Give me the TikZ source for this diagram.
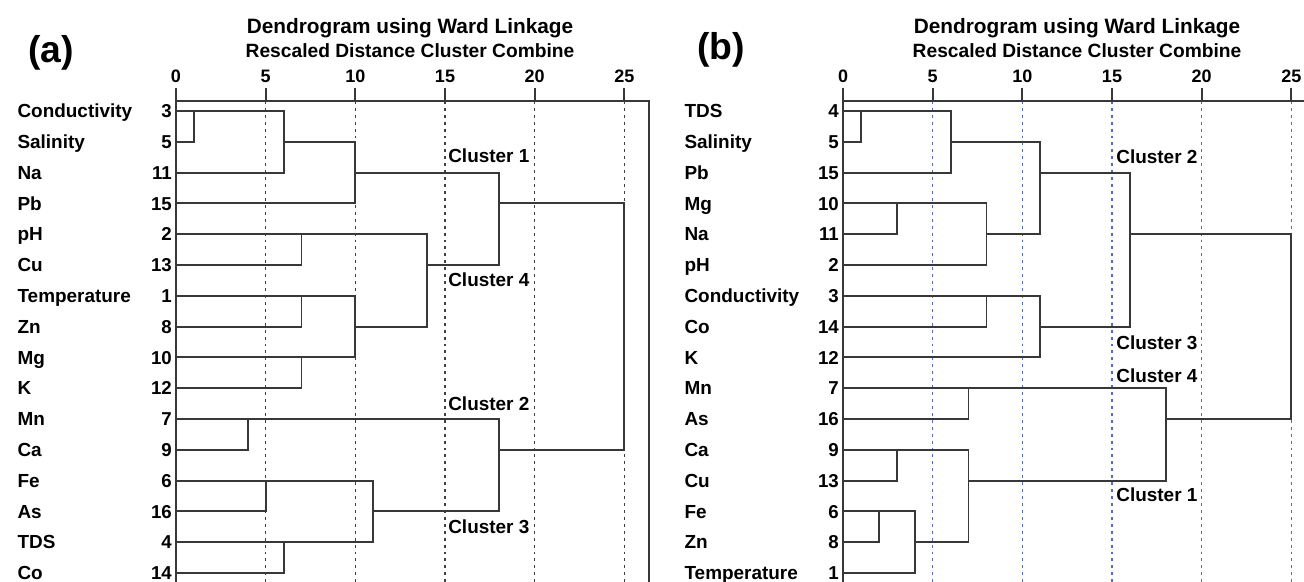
\documentclass[tikz,border=0pt]{standalone}
\usepackage{fontspec}
\setmainfont{Liberation Sans}
\definecolor{gridblue}{RGB}{85,105,205}
\begin{document}
\begin{tikzpicture}[x=0.75pt, y=-0.75pt,
    every node/.style={inner sep=0pt},
    varname/.style={anchor=base west, yshift=-5pt, font=\fontsize{14.2}{16}\selectfont\bfseries},
    varnum/.style={anchor=base east, yshift=-5pt, font=\fontsize{14}{16}\selectfont\bfseries},
    ticklabel/.style={anchor=base, font=\fontsize{13.5}{15}\selectfont\bfseries},
    clusterlabel/.style={anchor=base west, font=\fontsize{14.2}{16}\selectfont\bfseries},
    paneltag/.style={font=\fontsize{28}{30}\selectfont\bfseries},
    titleline/.style={anchor=base, font=\fontsize{15.6}{18}\selectfont\bfseries},
    subtitle/.style={anchor=base, font=\fontsize{14.4}{16}\selectfont\bfseries},
    treeline/.style={draw=black!78, line width=1.4pt},
    gridline/.style={dash pattern=on 2.2pt off 3pt, line width=0.9pt},
  ]
  \clip (0,0) rectangle (1304,582);
  \fill[white] (0,0) rectangle (1304,582);

  % (a)
  \begin{scope}[shift={(176,111)}, x=13.45pt, y=-23.1pt]
    \foreach \g in {5,10,...,25}
      \draw[gridline, black!75] (\g,-0.33) -- (\g,16);
    \foreach \g in {0,5,...,25} {
      \draw[treeline] (\g,-0.75) -- (\g,-0.33);
      \node[ticklabel] (ta\g) at (\g,-0.94) {\g};
    }
    \draw[treeline] (0,16) -- (0,-0.33) -- (26.38,-0.33) -- (26.38,16);
    \foreach \vname/\vnum [count=\r from 0] in {Conductivity/3, Salinity/5, Na/11, Pb/15,
        pH/2, Cu/13, Temperature/1, Zn/8, Mg/10, K/12, Mn/7, Ca/9, Fe/6, As/16, TDS/4, Co/14} {
      \node[varname] (la\r) at (-8.85,\r) {\vname};
      \node[varnum] (na\r) at (-0.22,\r) {\vnum};
    }
    \foreach \h/\a/\xa/\b/\xb in {1/0/0/1/0, 6/0/1/2/0, 10/1/6/3/0, 7/4/0/5/0, 7/6/0/7/0,
        7/8/0/9/0, 10/6/7/8/7, 14/4/7/7/10, 18/2/10/5/14, 4/10/0/11/0, 5/12/0/13/0,
        6/14/0/15/0, 11/12/5/14/6, 18/10/4/13/11, 25/3/18/11/18}
      \draw[treeline] (\xa,\a) -| (\h,\b) -- (\xb,\b);
    \node[clusterlabel] (ca1) at (15.17,1.66) {Cluster 1};
    \node[clusterlabel] (ca4) at (15.17,5.71) {Cluster 4};
    \node[clusterlabel] (ca2) at (15.17,9.74) {Cluster 2};
    \node[clusterlabel] (ca3) at (15.17,13.73) {Cluster 3};
    \node[titleline] (tia) at (13.05,-2.53) {Dendrogram using Ward Linkage};
    \node[subtitle] (sta) at (13.05,-1.75) {Rescaled Distance Cluster Combine};
    \node[paneltag] (taga) at (-6.97,-1.9) {(a)};
  \end{scope}

  % (b)
  \begin{scope}[shift={(843,111)}, x=13.45pt, y=-23.1pt]
    \foreach \g in {5,10,...,25}
      \draw[gridline, gridblue] (\g,-0.33) -- (\g,16);
    \foreach \g in {0,5,...,25} {
      \draw[treeline] (\g,-0.75) -- (\g,-0.33);
      \node[ticklabel] (tb\g) at (\g,-0.94) {\g};
    }
    \draw[treeline] (0,16) -- (0,-0.33) -- (26.38,-0.33) -- (26.38,16);
    \foreach \vname/\vnum [count=\r from 0] in {TDS/4, Salinity/5, Pb/15, Mg/10, Na/11,
        pH/2, Conductivity/3, Co/14, K/12, Mn/7, As/16, Ca/9, Cu/13, Fe/6, Zn/8, Temperature/1} {
      \node[varname] (lb\r) at (-8.85,\r) {\vname};
      \node[varnum] (nb\r) at (-0.22,\r) {\vnum};
    }
    \foreach \h/\a/\xa/\b/\xb in {1/0/0/1/0, 6/0/1/2/0, 3/3/0/4/0, 8/3/3/5/0, 11/1/6/4/8,
        8/6/0/7/0, 11/6/8/8/0, 16/2/11/7/11, 7/9/0/10/0, 3/11/0/12/0, 2/13/0/14/0,
        4/13/2/15/0, 7/11/3/14/4, 18/9/7/12/7, 25/4/16/10/18}
      \draw[treeline] (\xa,\a) -| (\h,\b) -- (\xb,\b);
    \node[clusterlabel] (cb2) at (15.23,1.72) {Cluster 2};
    \node[clusterlabel] (cb3) at (15.23,7.73) {Cluster 3};
    \node[clusterlabel] (cb4) at (15.23,8.83) {Cluster 4};
    \node[clusterlabel] (cb1) at (15.23,12.69) {Cluster 1};
    \node[titleline] (tib) at (13.05,-2.53) {Dendrogram using Ward Linkage};
    \node[subtitle] (stb) at (13.05,-1.75) {Rescaled Distance Cluster Combine};
    \node[paneltag] (tagb) at (-6.8,-2.0) {(b)};
  \end{scope}
\end{tikzpicture}
\end{document}
